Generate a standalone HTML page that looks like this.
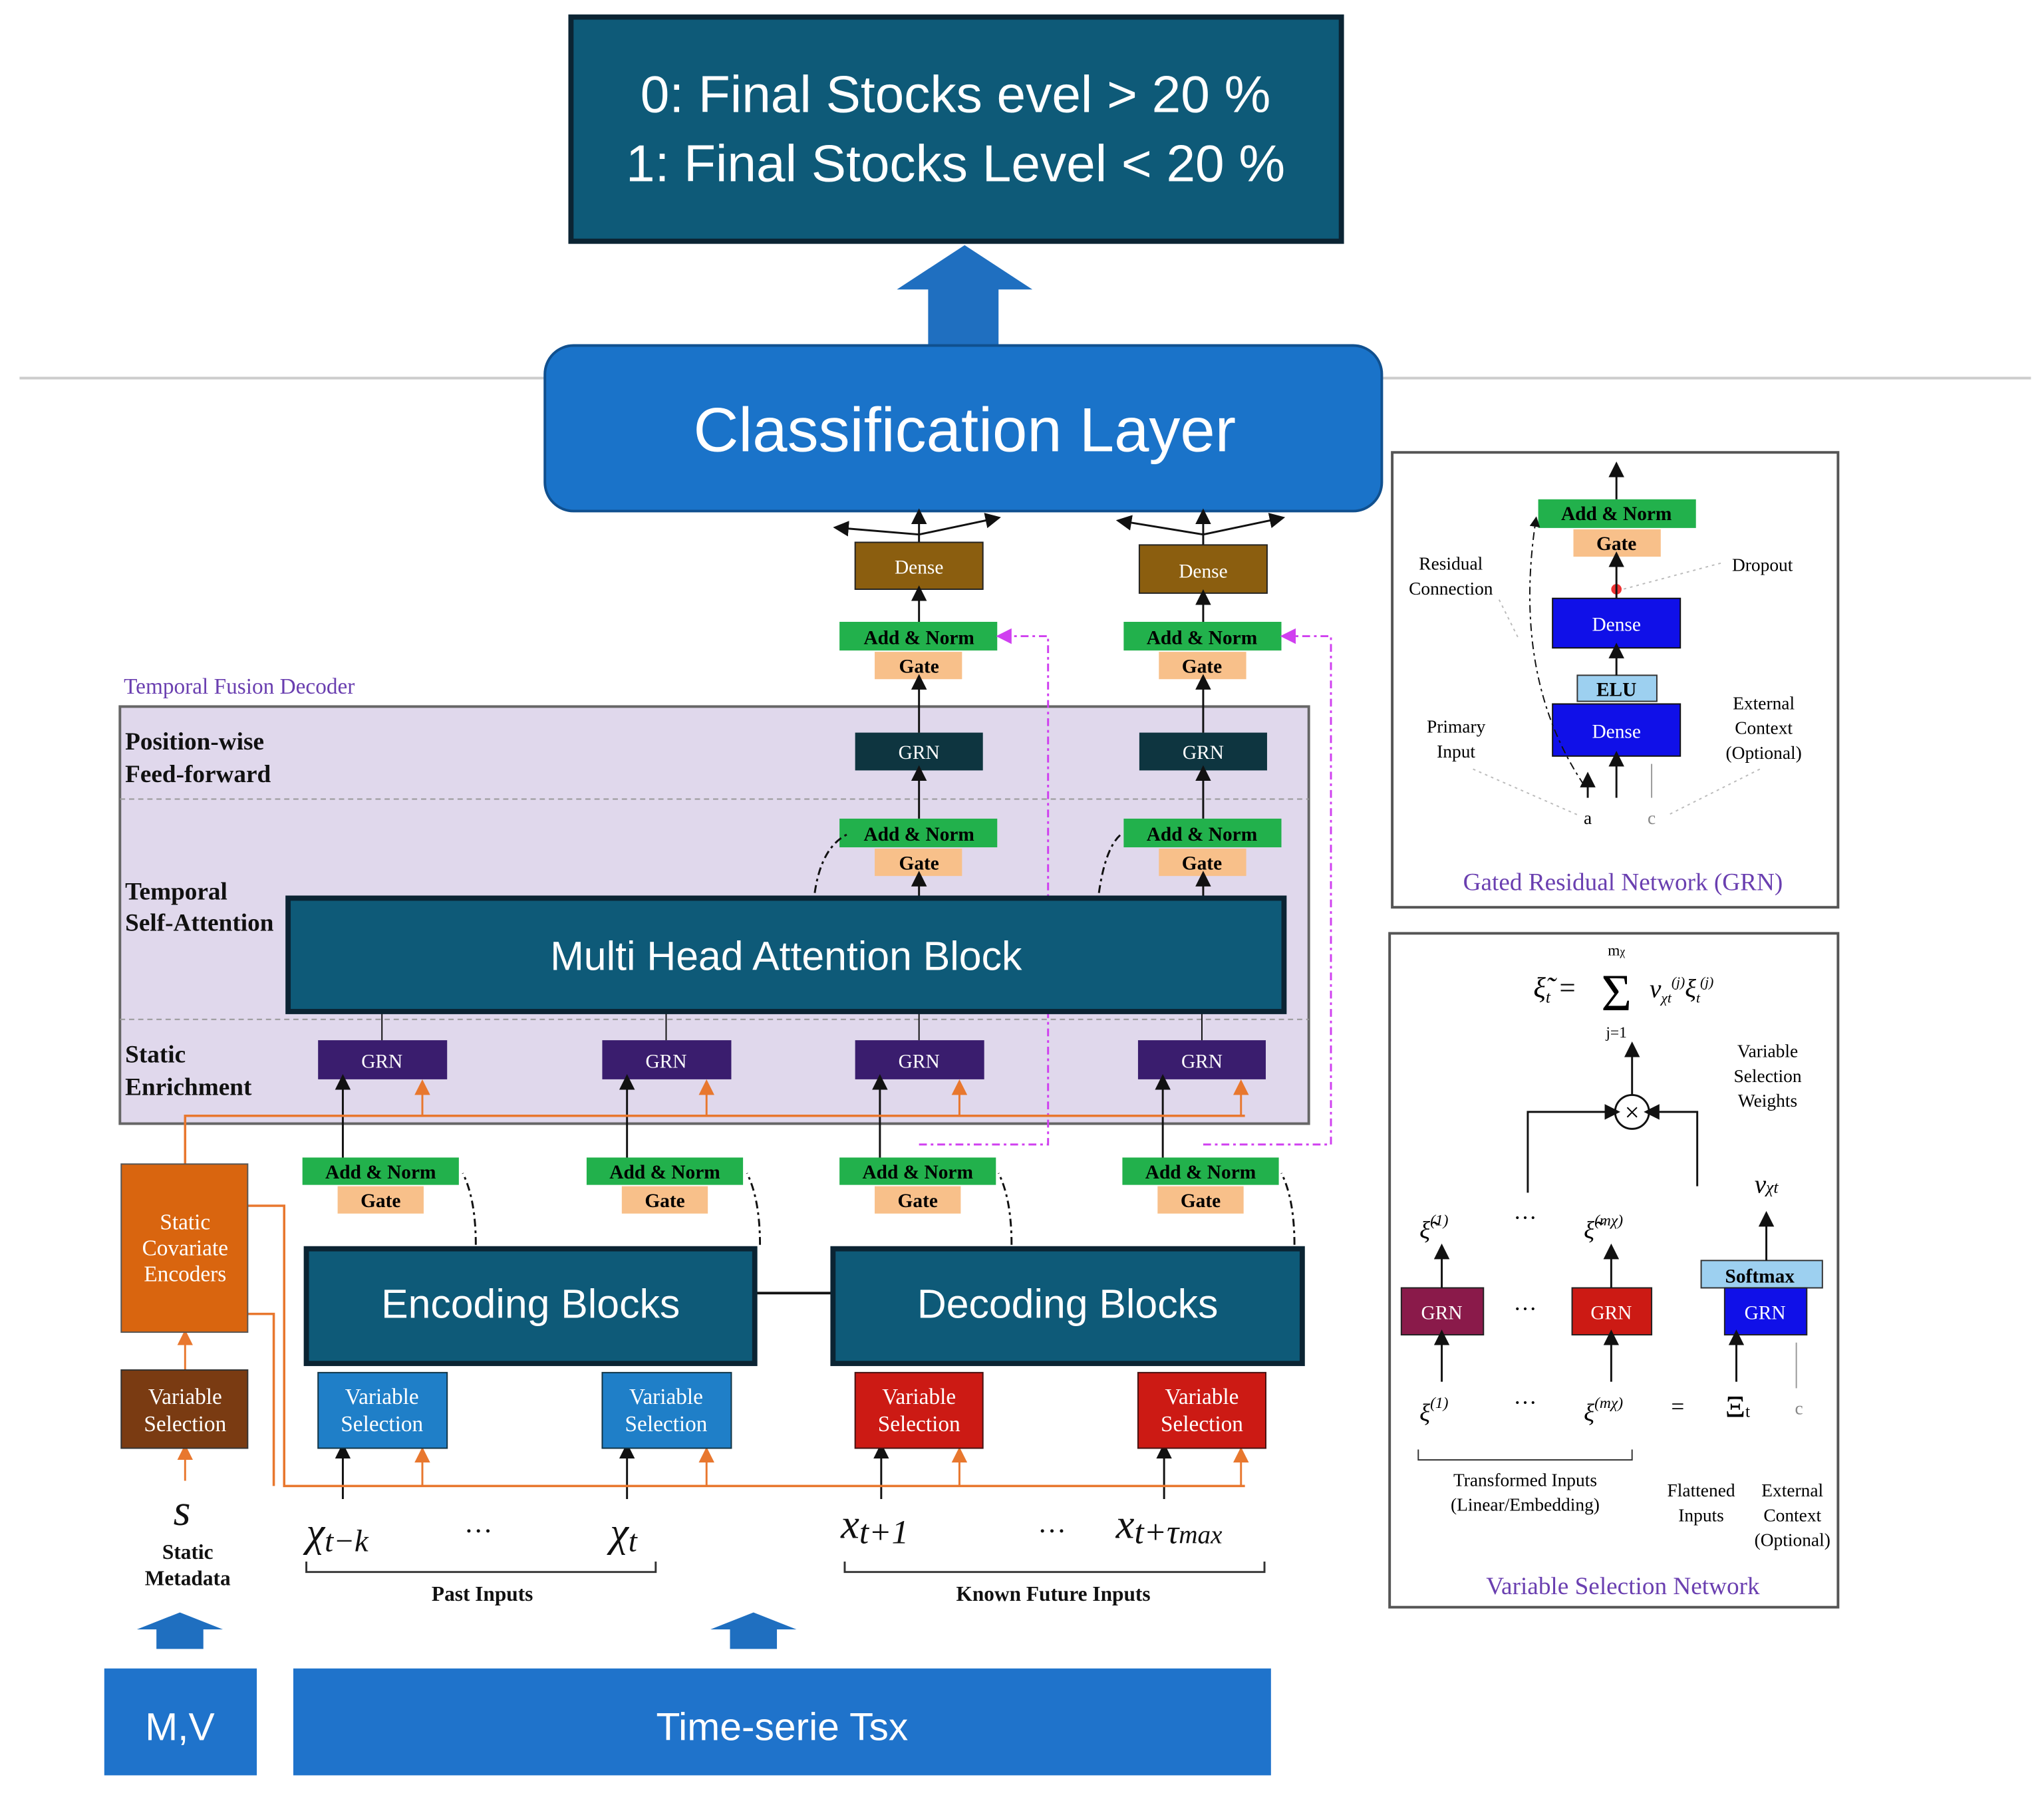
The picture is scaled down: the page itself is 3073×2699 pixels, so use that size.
<!DOCTYPE html>
<html><head><meta charset="utf-8"><style>html,body{margin:0;padding:0;background:#fff}svg{display:block}</style></head><body>
<svg width="3073" height="2699" viewBox="0 0 1568 1377" xmlns="http://www.w3.org/2000/svg" font-family="Liberation Serif, serif">
<defs>
<marker id="a" markerWidth="8" markerHeight="8" refX="4" refY="4" orient="auto"><path d="M0,0L8,4L0,8z" fill="#111"/></marker>
<marker id="o" markerWidth="8" markerHeight="8" refX="4" refY="4" orient="auto"><path d="M0,0L8,4L0,8z" fill="#e8772e"/></marker>
<marker id="m" markerWidth="8" markerHeight="8" refX="4" refY="4" orient="auto"><path d="M0,0L8,4L0,8z" fill="#d040f0"/></marker>
</defs>
<rect width="1568" height="1377" fill="#fff"/>
<line x1="15" y1="290" x2="1558" y2="290" stroke="#ccc" stroke-width="2"/>
<rect x="438" y="13" width="591" height="172" fill="#0e5a78" stroke="#0b2433" stroke-width="4"/>
<g font-family="Liberation Sans, sans-serif" fill="#fff" font-size="40" text-anchor="middle">
<text x="733" y="86">0: Final Stocks evel &gt; 20 %</text>
<text x="733" y="139">1: Final Stocks Level &lt; 20 %</text></g>
<path d="M712,265V222H688L740,188L792,222H766V265Z" fill="#1f6fc0"/>
<text x="95" y="532" font-size="17" fill="#6a3fb0">Temporal Fusion Decoder</text>
<rect x="92" y="542" width="912" height="320" fill="#e0d8ec" stroke="#666" stroke-width="2"/>
<line x1="92" y1="613" x2="1004" y2="613" stroke="#999" stroke-dasharray="4,3"/>
<line x1="92" y1="782" x2="1004" y2="782" stroke="#999" stroke-dasharray="4,3"/>
<g font-size="19" fill="#111" font-weight="bold">
<text x="96" y="575">Position-wise</text><text x="96" y="600">Feed-forward</text>
<text x="96" y="690">Temporal</text><text x="96" y="714">Self-Attention</text>
<text x="96" y="815">Static</text><text x="96" y="840">Enrichment</text></g>
<rect x="418" y="265" width="642" height="127" rx="22" fill="#1a73c9" stroke="#10508f" stroke-width="2"/>
<text x="740" y="346" font-family="Liberation Sans, sans-serif" font-size="48" fill="#fff" text-anchor="middle">Classification Layer</text>
<g stroke="#111" stroke-width="1.5" fill="none" marker-end="url(#a)">
<path d="M705,416V396"/><path d="M705,410L645,405"/><path d="M705,410L762,398"/>
<path d="M923,418V396"/><path d="M923,410L862,400"/><path d="M923,410L980,398"/>
</g>
<g font-size="15" text-anchor="middle">
<rect x="656" y="416" width="98" height="36" fill="#8b5e0f" stroke="#222"/><text x="705" y="440" fill="#fff">Dense</text>
<rect x="874" y="418" width="98" height="37" fill="#8b5e0f" stroke="#222"/><text x="923" y="443" fill="#fff">Dense</text>
</g>
<g font-size="15" text-anchor="middle" font-weight="bold">
<rect x="644" y="477" width="121" height="22" fill="#22b14c"/><text x="705" y="494">Add &amp; Norm</text>
<rect x="671" y="500" width="67" height="21" fill="#f8c08a"/><text x="705" y="516">Gate</text>
<rect x="862" y="477" width="121" height="22" fill="#22b14c"/><text x="922" y="494">Add &amp; Norm</text>
<rect x="889" y="500" width="67" height="21" fill="#f8c08a"/><text x="922" y="516">Gate</text>
<rect x="644" y="628" width="121" height="22" fill="#22b14c"/><text x="705" y="645">Add &amp; Norm</text>
<rect x="671" y="651" width="67" height="21" fill="#f8c08a"/><text x="705" y="667">Gate</text>
<rect x="862" y="628" width="121" height="22" fill="#22b14c"/><text x="922" y="645">Add &amp; Norm</text>
<rect x="889" y="651" width="67" height="21" fill="#f8c08a"/><text x="922" y="667">Gate</text>
<rect x="232" y="888" width="120" height="21" fill="#22b14c"/><text x="292" y="904">Add &amp; Norm</text>
<rect x="259" y="910" width="66" height="21" fill="#f8c08a"/><text x="292" y="926">Gate</text>
<rect x="450" y="888" width="120" height="21" fill="#22b14c"/><text x="510" y="904">Add &amp; Norm</text>
<rect x="477" y="910" width="66" height="21" fill="#f8c08a"/><text x="510" y="926">Gate</text>
<rect x="644" y="888" width="120" height="21" fill="#22b14c"/><text x="704" y="904">Add &amp; Norm</text>
<rect x="671" y="910" width="66" height="21" fill="#f8c08a"/><text x="704" y="926">Gate</text>
<rect x="861" y="888" width="120" height="21" fill="#22b14c"/><text x="921" y="904">Add &amp; Norm</text>
<rect x="888" y="910" width="66" height="21" fill="#f8c08a"/><text x="921" y="926">Gate</text>
</g>
<g font-size="15" text-anchor="middle" fill="#fff">
<rect x="656" y="562" width="98" height="29" fill="#0e3540"/><text x="705" y="582">GRN</text>
<rect x="874" y="562" width="98" height="29" fill="#0e3540"/><text x="923" y="582">GRN</text>
<rect x="244" y="798" width="99" height="30" fill="#3a1d6e"/><text x="293" y="819">GRN</text>
<rect x="462" y="798" width="99" height="30" fill="#3a1d6e"/><text x="511" y="819">GRN</text>
<rect x="656" y="798" width="99" height="30" fill="#3a1d6e"/><text x="705" y="819">GRN</text>
<rect x="873" y="798" width="98" height="30" fill="#3a1d6e"/><text x="922" y="819">GRN</text>
</g>
<g stroke="#111" stroke-width="1.5" fill="none" marker-end="url(#a)">
<path d="M705,477V455"/><path d="M923,477V458"/>
<path d="M705,562V523"/><path d="M923,562V523"/>
<path d="M705,628V593"/><path d="M923,628V593"/>
<path d="M705,688V674"/><path d="M923,688V674"/>
<path d="M263,888V830"/><path d="M481,888V830"/><path d="M675,888V830"/><path d="M892,888V830"/>
<path d="M263,1150V1113"/><path d="M481,1150V1113"/><path d="M676,1150V1113"/><path d="M893,1150V1113"/>
</g>
<g stroke="#111" stroke-width="1.5" fill="none" stroke-dasharray="6,3,2,3">
<path d="M625,685Q630,650 650,640"/><path d="M843,685Q848,650 860,640"/>
<path d="M365,955Q365,920 355,900"/><path d="M583,955Q583,920 573,900"/><path d="M776,955Q776,920 766,900"/><path d="M993,955Q993,920 983,900"/>
</g>
<line x1="293" y1="777" x2="293" y2="798" stroke="#111"/><line x1="511" y1="777" x2="511" y2="798" stroke="#111"/>
<line x1="705" y1="777" x2="705" y2="798" stroke="#111"/><line x1="922" y1="777" x2="922" y2="798" stroke="#111"/>
<g stroke="#d040f0" stroke-width="1.5" fill="none" stroke-dasharray="6,3,2,3" marker-end="url(#m)">
<path d="M705,878H804V488H770"/><path d="M923,878H1021V488H988"/>
</g>
<rect x="221" y="689" width="764" height="87" fill="#0e5a78" stroke="#0b2433" stroke-width="4"/>
<text x="603" y="744" font-family="Liberation Sans, sans-serif" font-size="31" fill="#fff" text-anchor="middle">Multi  Head Attention Block</text>
<g stroke="#e8772e" stroke-width="1.8" fill="none">
<path d="M142,893V856H955"/>
<path d="M190,925H218V1140H955"/>
<path d="M190,1008H210V1140"/>
</g>
<g stroke="#e8772e" stroke-width="1.5" fill="none" marker-end="url(#o)">
<path d="M324,856V834"/><path d="M542,856V834"/><path d="M736,856V834"/><path d="M952,856V834"/>
<path d="M324,1140V1116"/><path d="M542,1140V1116"/><path d="M736,1140V1116"/><path d="M952,1140V1116"/>
<path d="M142,1051V1026"/><path d="M142,1136V1114"/>
</g>
<line x1="580" y1="992" x2="638" y2="992" stroke="#111" stroke-width="2"/>
<rect x="235" y="958" width="344" height="88" fill="#0e5a78" stroke="#0b2433" stroke-width="4"/>
<text x="407" y="1011" font-family="Liberation Sans, sans-serif" font-size="31" fill="#fff" text-anchor="middle">Encoding Blocks</text>
<rect x="639" y="958" width="360" height="88" fill="#0e5a78" stroke="#0b2433" stroke-width="4"/>
<text x="819" y="1011" font-family="Liberation Sans, sans-serif" font-size="31" fill="#fff" text-anchor="middle">Decoding Blocks</text>
<g font-size="17" text-anchor="middle" fill="#fff">
<rect x="93" y="893" width="97" height="129" fill="#d9650f" stroke="#555"/>
<text x="142" y="943">Static</text><text x="142" y="963">Covariate</text><text x="142" y="983">Encoders</text>
<rect x="93" y="1051" width="97" height="60" fill="#7a3b12" stroke="#333"/>
<text x="142" y="1077">Variable</text><text x="142" y="1098">Selection</text>
<rect x="244" y="1053" width="99" height="58" fill="#1f7fc8" stroke="#134"/>
<text x="293" y="1077">Variable</text><text x="293" y="1098">Selection</text>
<rect x="462" y="1053" width="99" height="58" fill="#1f7fc8" stroke="#134"/>
<text x="511" y="1077">Variable</text><text x="511" y="1098">Selection</text>
<rect x="656" y="1053" width="98" height="58" fill="#cc1a14" stroke="#411"/>
<text x="705" y="1077">Variable</text><text x="705" y="1098">Selection</text>
<rect x="873" y="1053" width="98" height="58" fill="#cc1a14" stroke="#411"/>
<text x="922" y="1077">Variable</text><text x="922" y="1098">Selection</text>
</g>
<g fill="#111">
<text x="133" y="1170" font-size="34" font-style="italic">s</text>
<text x="144" y="1196" font-size="16" text-anchor="middle" font-weight="bold">Static</text>
<text x="144" y="1216" font-size="16" text-anchor="middle" font-weight="bold">Metadata</text>
<text x="235" y="1186" font-size="32" font-style="italic">χ<tspan font-size="24" dy="4">t−k</tspan></text>
<text x="356" y="1182" font-size="22">···</text>
<text x="468" y="1186" font-size="32" font-style="italic">χ<tspan font-size="24" dy="4">t</tspan></text>
<text x="645" y="1180" font-size="32" font-style="italic">x<tspan font-size="26" dy="4">t+1</tspan></text>
<text x="796" y="1182" font-size="22">···</text>
<text x="856" y="1180" font-size="32" font-style="italic">x<tspan font-size="26" dy="4">t+τ<tspan font-size="20">max</tspan></tspan></text>
<text x="370" y="1228" font-size="16" text-anchor="middle" font-weight="bold">Past Inputs</text>
<text x="808" y="1228" font-size="16" text-anchor="middle" font-weight="bold">Known Future Inputs</text>
</g>
<g stroke="#333" fill="none" stroke-width="1.5">
<path d="M235,1198v8h268v-8"/><path d="M648,1198v8h322v-8"/>
</g>
<path d="M120,1265V1250H105L138,1237L171,1250H156V1265Z" fill="#1f6fc0"/>
<path d="M560,1265V1250H545L578,1237L611,1250H596V1265Z" fill="#1f6fc0"/>
<rect x="80" y="1280" width="117" height="82" fill="#1f73cb"/>
<text x="138" y="1335" font-family="Liberation Sans, sans-serif" font-size="30" fill="#fff" text-anchor="middle">M,V</text>
<rect x="225" y="1280" width="750" height="82" fill="#1f73cb"/>
<text x="600" y="1335" font-family="Liberation Sans, sans-serif" font-size="30" fill="#fff" text-anchor="middle">Time-serie Tsx</text>
<rect x="1068" y="347" width="342" height="349" fill="#fff" stroke="#555" stroke-width="2"/>
<g font-size="15" text-anchor="middle">
<rect x="1180" y="383" width="121" height="22" fill="#22b14c"/><text x="1240" y="399" font-weight="bold">Add &amp; Norm</text>
<rect x="1207" y="406" width="67" height="21" fill="#f8c08a"/><text x="1240" y="422" font-weight="bold">Gate</text>
<rect x="1191" y="459" width="98" height="38" fill="#1010e8" stroke="#111"/><text x="1240" y="484" fill="#fff">Dense</text>
<rect x="1210" y="518" width="61" height="20" fill="#9dd0f0" stroke="#333"/><text x="1240" y="534" font-weight="bold">ELU</text>
<rect x="1191" y="540" width="98" height="40" fill="#1010e8" stroke="#111"/><text x="1240" y="566" fill="#fff">Dense</text>
<text x="1113" y="437" font-size="14">Residual</text><text x="1113" y="456" font-size="14">Connection</text>
<text x="1352" y="438" font-size="14">Dropout</text>
<text x="1117" y="562" font-size="14">Primary</text><text x="1117" y="581" font-size="14">Input</text>
<text x="1353" y="544" font-size="14">External</text><text x="1353" y="563" font-size="14">Context</text><text x="1353" y="582" font-size="14">(Optional)</text>
<text x="1218" y="632" font-size="14">a</text><text x="1267" y="632" font-size="14" fill="#888">c</text>
<text x="1245" y="683" font-size="19" fill="#6a3fb0">Gated Residual Network (GRN)</text>
</g>
<circle cx="1240" cy="452" r="4" fill="#e33"/>
<g stroke="#111" stroke-width="1.5" fill="none" marker-end="url(#a)">
<path d="M1240,383V360"/><path d="M1240,459V429"/><path d="M1240,518V499"/><path d="M1240,612V582"/>
<path d="M1218,612V598"/>
</g>
<path d="M1215,602Q1160,520 1178,400" stroke="#111" fill="none" stroke-dasharray="6,3,2,3" marker-end="url(#a)"/>
<path d="M1267,612V586" stroke="#999" fill="none"/>
<g stroke="#bbb" stroke-dasharray="2,3" fill="none"><path d="M1150,460L1165,490"/><path d="M1320,432L1245,452"/><path d="M1130,590L1210,625"/><path d="M1350,590L1280,625"/></g>
<rect x="1066" y="716" width="344" height="517" fill="#fff" stroke="#555" stroke-width="2"/>
<g font-size="15" text-anchor="middle">
<text x="1193" y="765" font-size="22" font-style="italic">ξ̃<tspan font-size="13" dy="4">t</tspan><tspan dy="-4"> =</tspan></text>
<text x="1240" y="775" font-size="40">Σ</text>
<text x="1240" y="733" font-size="12">m<tspan font-size="9">χ</tspan></text><text x="1240" y="796" font-size="12">j=1</text>
<text x="1290" y="765" font-size="20" font-style="italic">v<tspan font-size="11" dy="4">χt</tspan><tspan font-size="11" dy="-12">(j)</tspan><tspan dy="8">ξ</tspan><tspan font-size="11" dy="4">t</tspan><tspan font-size="11" dy="-12">(j)</tspan></text>
<text x="1356" y="811" font-size="14">Variable</text><text x="1356" y="830" font-size="14">Selection</text><text x="1356" y="849" font-size="14">Weights</text>
<circle cx="1252" cy="853" r="13" fill="#fff" stroke="#111" stroke-width="1.5"/><text x="1252" y="860" font-size="20">×</text>
<text x="1355" y="915" font-size="20" font-style="italic">v<tspan font-size="13">χt</tspan></text>
<text x="1100" y="950" font-size="19" font-style="italic">ξ̃<tspan font-size="12" dy="-10">(1)</tspan></text>
<text x="1170" y="940" font-size="18">···</text>
<text x="1230" y="950" font-size="19" font-style="italic">ξ̃<tspan font-size="12" dy="-10">(mχ)</tspan></text>
<rect x="1305" y="967" width="93" height="21" fill="#9dd0f0" stroke="#333"/><text x="1350" y="984" font-weight="bold">Softmax</text>
<rect x="1075" y="988" width="63" height="36" fill="#8a1a4a" stroke="#222"/><text x="1106" y="1012" fill="#fff">GRN</text>
<text x="1170" y="1010" font-size="18">···</text>
<rect x="1206" y="988" width="61" height="36" fill="#cc1a14" stroke="#222"/><text x="1236" y="1012" fill="#fff">GRN</text>
<rect x="1323" y="988" width="63" height="36" fill="#1010e8" stroke="#222"/><text x="1354" y="1012" fill="#fff">GRN</text>
<text x="1100" y="1090" font-size="19" font-style="italic">ξ<tspan font-size="12" dy="-10">(1)</tspan></text>
<text x="1170" y="1082" font-size="18">···</text>
<text x="1230" y="1090" font-size="19" font-style="italic">ξ<tspan font-size="12" dy="-10">(mχ)</tspan></text>
<text x="1287" y="1085" font-size="18">=</text>
<text x="1333" y="1087" font-size="24">Ξ<tspan font-size="13">t</tspan></text>
<text x="1380" y="1085" font-size="14" fill="#888">c</text>
<text x="1170" y="1140" font-size="14">Transformed Inputs</text><text x="1170" y="1159" font-size="14">(Linear/Embedding)</text>
<text x="1305" y="1148" font-size="14">Flattened</text><text x="1305" y="1167" font-size="14">Inputs</text>
<text x="1375" y="1148" font-size="14">External</text><text x="1375" y="1167" font-size="14">Context</text><text x="1375" y="1186" font-size="14">(Optional)</text>
<text x="1245" y="1223" font-size="19" fill="#6a3fb0">Variable Selection Network</text>
</g>
<g stroke="#111" stroke-width="1.5" fill="none" marker-end="url(#a)">
<path d="M1252,840V805"/><path d="M1172,915V853H1237"/><path d="M1302,910H1302V853H1267"/>
<path d="M1355,967V935"/>
<path d="M1106,988V960"/><path d="M1236,988V960"/>
<path d="M1106,1060V1026"/><path d="M1236,1060V1026"/><path d="M1332,1060V1026"/>
</g>
<path d="M1378,1065V1030" stroke="#999" fill="none"/>
<path d="M1088,1112v8h164v-8" stroke="#333" fill="none"/>
</svg>
</body></html>
